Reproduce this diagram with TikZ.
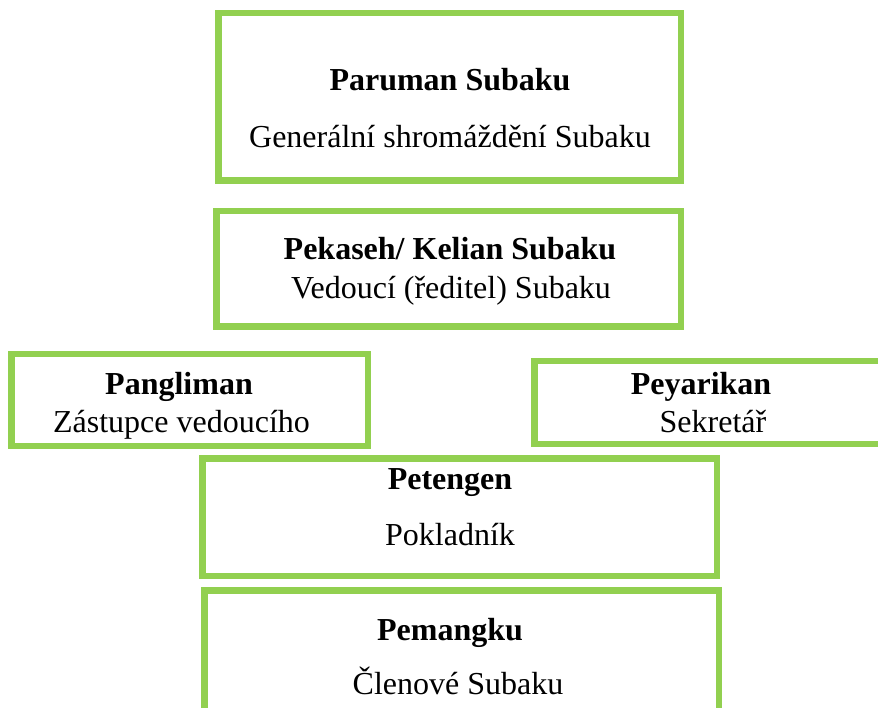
\documentclass[tikz,border=0pt]{standalone}
\usepackage{fontspec}
\setmainfont{Liberation Serif}
\definecolor{boxgreen}{HTML}{92D050}
\tikzset{
  orgbox/.style={draw=boxgreen, line width=6.5pt, fill=white, rectangle, inner sep=0pt, outer sep=0pt},
  title/.style={font=\fontsize{32}{38}\selectfont\bfseries, anchor=base, inner sep=0pt},
  sub/.style={font=\fontsize{32}{38}\selectfont, anchor=base, inner sep=0pt}
}
\begin{document}
\begin{tikzpicture}[x=1pt,y=-1pt]
\useasboundingbox (0,0) rectangle (878,708);
% boxes
\node[orgbox, minimum width=462.5pt, minimum height=167.5pt] (b1) at (449.5,97) {};
\node[orgbox, minimum width=464.5pt, minimum height=115.5pt] (b2) at (448.5,269) {};
\node[orgbox, minimum width=356.5pt, minimum height=91.5pt] (b3) at (189.5,400) {};
\node[orgbox, minimum width=362.5pt, minimum height=82.5pt] (b4) at (715.5,402.5) {};
\node[orgbox, minimum width=514.5pt, minimum height=117.5pt] (b5) at (459.5,517) {};
\node[orgbox, minimum width=514.5pt, minimum height=136.5pt] (b6) at (461.5,658.5) {};
% texts
\node[title] (t1) at (450,91) {Paruman Subaku};
\node[sub] (s1) at (450,148) {Generální shromáždění Subaku};
\node[title] (t2) at (450,260) {Pekaseh/ Kelian Subaku};
\node[sub] (s2) at (451,299) {Vedoucí (ředitel) Subaku};
\node[title] (t3) at (179,395) {Pangliman};
\node[sub] (s3) at (181.5,432) {Zástupce vedoucího};
\node[title] (t4) at (701,395) {Peyarikan};
\node[sub] (s4) at (713,432) {Sekretář};
\node[title] (t5) at (450,489) {Petengen};
\node[sub] (s5) at (450,545) {Pokladník};
\node[title] (t6) at (450,640) {Pemangku};
\node[sub] (s6) at (458,694) {Členové Subaku};
\end{tikzpicture}
\end{document}
